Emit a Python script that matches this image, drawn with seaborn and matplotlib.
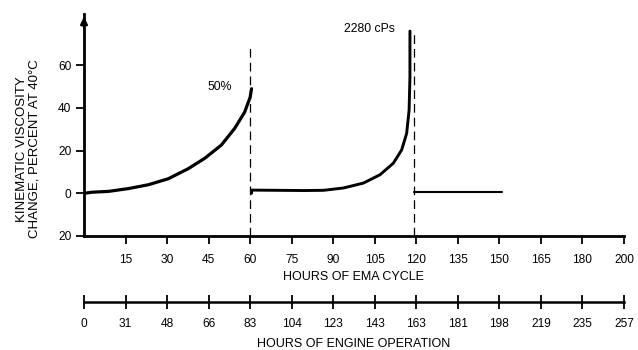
import matplotlib
matplotlib.use("Agg")
import matplotlib.pyplot as plt
import seaborn as sns
import pandas as pd

# изменение вязкости (%, 40 C) по часам цикла EMA
cycle1_hours = [0, 2.8, 8.8, 16, 23.2, 30.4, 37.6, 43.6, 49.6, 54.4, 58, 60, 60.5]
cycle1_change = [0, 0.5, 0.9, 2.2, 4, 6.8, 11.5, 16.4, 22.6, 30.4, 38, 45, 49]
cycle2_hours = [60.5, 60.5, 70, 79.3, 86.5, 93.7, 100.9, 106.9, 111.7, 114.7, 116.5, 117.4, 117.7, 117.7]
cycle2_change = [0, 1.5, 1.4, 1.3, 1.4, 2.5, 4.8, 8.7, 14.1, 20.3, 28, 39, 54.4, 76]
cycle3_hours = [119, 151]
cycle3_change = [0.4, 0.4]

# пунктирные линии (смена масла)
reset_hours = [60, 119]
reset_top = [70, 76]

ema_labels = ['15', '30', '45', '60', '75', '90', '105', '120', '135', '150', '165', '180', '200']
engine_labels = ['0', '31', '48', '66', '83', '104', '123', '143', '163', '181', '198', '219', '235', '257']
ytick_values = [-20, 0, 20, 40, 60]
ytick_labels = ['20', '0', '20', '40', '60']

sns.set_style("ticks", rc={'text.color': 'black', 'xtick.color': 'black',
                           'ytick.color': 'black', 'axes.edgecolor': 'black'})
plt.rcParams['font.family'] = ['Liberation Sans', 'DejaVu Sans']

fig = plt.figure(figsize=(6.38, 3.5), dpi=100)
W, H = 638, 350
ax = fig.add_axes([84 / W, (H - 236) / H, 540 / W, 222 / H])

df1 = pd.DataFrame({'hours': cycle1_hours, 'change': cycle1_change})
df2 = pd.DataFrame({'hours': cycle2_hours, 'change': cycle2_change})
df3 = pd.DataFrame({'hours': cycle3_hours, 'change': cycle3_change})
sns.lineplot(data=df1, x='hours', y='change', ax=ax, color='black', lw=2.3, sort=False, estimator=None)
sns.lineplot(data=df2, x='hours', y='change', ax=ax, color='black', lw=2.1, sort=False, estimator=None)
sns.lineplot(data=df3, x='hours', y='change', ax=ax, color='black', lw=1.5, sort=False, estimator=None)

ax.vlines(reset_hours, -20, reset_top, colors='black', lw=0.9, linestyles=(0, (7, 4)))

ax.text(53.6, 50, '50%', ha='right', va='center', fontsize=8.8)
ax.text(112.3, 77, '2280 cPs', ha='right', va='center', fontsize=8.8)

ax.set_xlim(0, 195)
ax.set_ylim(-20, 84)
ax.set_xticks([15 * (i + 1) for i in range(len(ema_labels))])
ax.set_xticklabels(ema_labels)
ax.set_yticks(ytick_values)
ax.set_yticklabels(ytick_labels)
ax.set_xlabel('')
ax.set_ylabel('')
ax.tick_params(axis='x', direction='out', length=5.8, width=1.3, pad=7, labelsize=8.6)
ax.tick_params(axis='y', direction='out', length=5.5, width=1.3, pad=3.5, labelsize=8.6)
for s in ['top', 'right']:
    ax.spines[s].set_visible(False)
for s in ['left', 'bottom']:
    ax.spines[s].set_linewidth(2)
ax.annotate('', xy=(0, 1.0), xytext=(0, 0.93), xycoords='axes fraction',
            arrowprops=dict(arrowstyle='-|>', color='black', lw=1.8, mutation_scale=10))

# вторая шкала - часы работы двигателя
ax2 = fig.add_axes([84 / W, (H - 302) / H, 540 / W, 0.001])
ax2.patch.set_visible(False)
ax2.set_xlim(0, 195)
ax2.set_xticks([15 * i for i in range(len(engine_labels))])
ax2.set_xticklabels(engine_labels)
ax2.set_yticks([])
for s in ['top', 'right', 'left']:
    ax2.spines[s].set_visible(False)
ax2.spines['bottom'].set_linewidth(1.8)
ax2.tick_params(axis='x', direction='inout', length=9.5, width=1.3, pad=6.5, labelsize=8.6)

fig.text(353 / W, 1 - 277 / H, 'HOURS OF EMA CYCLE', ha='center', va='center', fontsize=9)
fig.text(354 / W, 1 - 344 / H, 'HOURS OF ENGINE OPERATION', ha='center', va='center', fontsize=9)
fig.text(28.5 / W, 1 - 149 / H, 'KINEMATIC VISCOSITY\nCHANGE, PERCENT AT 40°C', rotation=90,
         ha='center', va='center', multialignment='center', linespacing=1.0, fontsize=9.5)

fig.savefig('out.png', dpi=100)
